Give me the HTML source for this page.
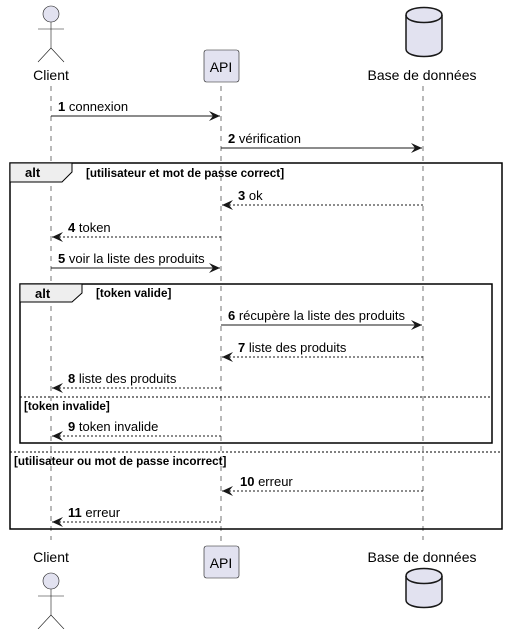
<!DOCTYPE html>
<html><head><meta charset="utf-8"><style>
html,body{margin:0;padding:0;background:#fff;}
svg{display:block;}
text{font-family:"Liberation Sans",sans-serif;}
.m{font-size:13px;fill:#000;}
.c{font-size:11.7px;font-weight:bold;fill:#000;}
.p{font-size:14px;fill:#000;}
</style></head><body>
<svg width="508" height="629" viewBox="0 0 508 629" xmlns="http://www.w3.org/2000/svg">
<defs>
<marker id="a" markerWidth="12" markerHeight="10" refX="11" refY="5" orient="auto" markerUnits="userSpaceOnUse">
<path d="M0,0 L11,5 L0,10 L4,5 Z" fill="#181818"/>
</marker>
</defs>
<g stroke="#181818" stroke-width="0.6" stroke-dasharray="5,5">
<line x1="51" y1="86" x2="51" y2="540"/>
<line x1="221" y1="86" x2="221" y2="546"/>
<line x1="423" y1="86" x2="423" y2="540"/>
</g>
<g stroke="#181818" fill="#E2E2F0" stroke-width="0.6">
<circle cx="51" cy="14" r="8"/>
<line x1="51" y1="22" x2="51" y2="48"/><line x1="38" y1="29" x2="64" y2="29"/>
<line x1="51" y1="48" x2="38" y2="62"/><line x1="51" y1="48" x2="64" y2="62"/>
<rect x="204" y="50" width="35" height="32" rx="2.5"/>
</g>
<g stroke="#181818" fill="#E2E2F0" stroke-width="1.5">
<path d="M406,15 C406,5 442,5 442,15 L442,49 C442,59 406,59 406,49 Z"/>
<path d="M406,15 C406,25 442,25 442,15" fill="none"/>
</g>
<text class="p" x="51" y="80" text-anchor="middle">Client</text>
<text class="p" x="221" y="72" text-anchor="middle">API</text>
<text class="p" x="422" y="80" text-anchor="middle">Base de données</text>
<g stroke="#181818" fill="#E2E2F0" stroke-width="0.6">
<circle cx="51" cy="581" r="8"/>
<line x1="51" y1="589" x2="51" y2="615"/><line x1="38" y1="596" x2="64" y2="596"/>
<line x1="51" y1="615" x2="38" y2="629"/><line x1="51" y1="615" x2="64" y2="629"/>
<rect x="204" y="546" width="35" height="32" rx="2.5"/>
</g>
<g stroke="#181818" fill="#E2E2F0" stroke-width="1.5">
<path d="M406,576 C406,566 442,566 442,576 L442,600 C442,610 406,610 406,600 Z"/>
<path d="M406,576 C406,586 442,586 442,576" fill="none"/>
</g>
<text class="p" x="51" y="562" text-anchor="middle">Client</text>
<text class="p" x="221" y="568" text-anchor="middle">API</text>
<text class="p" x="422" y="562" text-anchor="middle">Base de données</text>
<g fill="none" stroke="#000">
<rect x="10" y="163" width="492" height="366" stroke-width="1.5"/>
<rect x="20" y="284" width="472" height="159" stroke-width="1.5"/>
</g>
<path d="M10,163 L72,163 L72,172 L62,182 L10,182 Z" fill="#EEEEEE" stroke="#000" stroke-width="1"/>
<path d="M20,284 L82,284 L82,293 L72,302 L20,302 Z" fill="#EEEEEE" stroke="#000" stroke-width="1"/>
<text x="25" y="177" style="font-size:13px;font-weight:bold">alt</text>
<text x="35" y="298" style="font-size:13px;font-weight:bold">alt</text>
<text class="c" x="86" y="177">[utilisateur et mot de passe correct]</text>
<text class="c" x="96" y="297">[token valide]</text>
<g stroke="#000" stroke-width="1" stroke-dasharray="2,2">
<line x1="20" y1="397" x2="492" y2="397"/>
<line x1="10" y1="452" x2="502" y2="452"/>
</g>
<text class="c" x="24" y="410">[token invalide]</text>
<text class="c" x="14" y="465">[utilisateur ou mot de passe incorrect]</text>
<g stroke="#181818" stroke-width="1" fill="none" marker-end="url(#a)">
<line x1="51" y1="116" x2="220" y2="116"/>
<line x1="221" y1="148" x2="422" y2="148"/>
<line x1="423" y1="205" x2="222" y2="205" stroke-dasharray="2,2"/>
<line x1="221" y1="237" x2="52" y2="237" stroke-dasharray="2,2"/>
<line x1="51" y1="268" x2="220" y2="268"/>
<line x1="221" y1="325" x2="422" y2="325"/>
<line x1="423" y1="357" x2="222" y2="357" stroke-dasharray="2,2"/>
<line x1="221" y1="388" x2="52" y2="388" stroke-dasharray="2,2"/>
<line x1="221" y1="436" x2="52" y2="436" stroke-dasharray="2,2"/>
<line x1="423" y1="491" x2="222" y2="491" stroke-dasharray="2,2"/>
<line x1="221" y1="522" x2="52" y2="522" stroke-dasharray="2,2"/>
</g>
<text class="m" x="58" y="111"><tspan font-weight="bold">1</tspan> connexion</text>
<text class="m" x="228" y="143"><tspan font-weight="bold">2</tspan> vérification</text>
<text class="m" x="238" y="200"><tspan font-weight="bold">3</tspan> ok</text>
<text class="m" x="68" y="232"><tspan font-weight="bold">4</tspan> token</text>
<text class="m" x="58" y="263"><tspan font-weight="bold">5</tspan> voir la liste des produits</text>
<text class="m" x="228" y="320"><tspan font-weight="bold">6</tspan> récupère la liste des produits</text>
<text class="m" x="238" y="352"><tspan font-weight="bold">7</tspan> liste des produits</text>
<text class="m" x="68" y="383"><tspan font-weight="bold">8</tspan> liste des produits</text>
<text class="m" x="68" y="431"><tspan font-weight="bold">9</tspan> token invalide</text>
<text class="m" x="240" y="486"><tspan font-weight="bold">10</tspan> erreur</text>
<text class="m" x="68" y="517"><tspan font-weight="bold">11</tspan> erreur</text>
</svg>
</body></html>
